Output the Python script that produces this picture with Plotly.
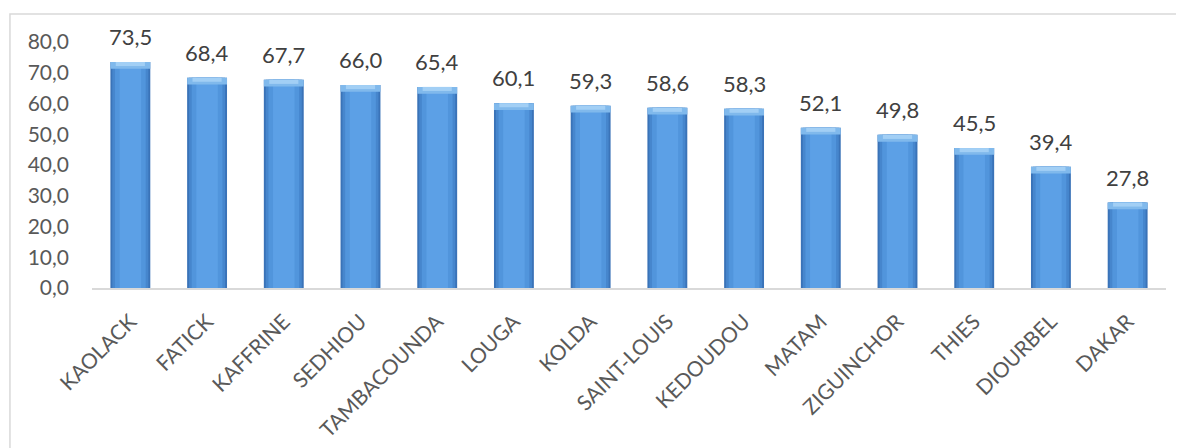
import plotly.graph_objects as go

regions = ["KAOLACK", "FATICK", "KAFFRINE", "SEDHIOU", "TAMBACOUNDA", "LOUGA", "KOLDA",
           "SAINT-LOUIS", "KEDOUDOU", "MATAM", "ZIGUINCHOR", "THIES", "DIOURBEL", "DAKAR"]
values = [73.5, 68.4, 67.7, 66.0, 65.4, 60.1, 59.3, 58.6, 58.3, 52.1, 49.8, 45.5, 39.4, 27.8]
y_ticks = [0, 10, 20, 30, 40, 50, 60, 70, 80]

FONT = "Lato"
cap = 2.2
fig = go.Figure()
# layered bars to imitate the cylinder-like gradient
for w, col in [(0.52, "#3a73b8"), (0.47, "#4686cd"), (0.40, "#5195dc"), (0.28, "#5ca0e6")]:
    fig.add_trace(go.Bar(x=regions, y=values, width=w, marker=dict(color=col, line=dict(width=0)),
                         hoverinfo="skip", showlegend=False))
# light top bevel
fig.add_trace(go.Bar(x=regions, y=[cap] * len(values), base=[v - cap for v in values], width=0.52,
                     marker=dict(color="#80b9ec", line=dict(width=0)), hoverinfo="skip", showlegend=False))
fig.add_trace(go.Bar(x=regions, y=[cap * 0.6] * len(values), base=[v - cap * 0.6 for v in values], width=0.38,
                     marker=dict(color="#a2cff5", line=dict(width=0)), hoverinfo="skip", showlegend=False))

for r, v in zip(regions, values):
    fig.add_annotation(x=r, y=v, text=f"{v:.1f}".replace(".", ","), showarrow=False,
                       yanchor="bottom", yshift=10, font=dict(family=FONT, size=22, color="#404040"))

fig.add_shape(type="rect", xref="paper", yref="paper", x0=-0.0764, x1=1.05, y0=-0.75, y1=1.1138,
              line=dict(color="#d9d9d9", width=1.5), fillcolor="rgba(0,0,0,0)", layer="below")

fig.update_layout(
    width=1184, height=448,
    margin=dict(l=84, r=26, t=34, b=168, autoexpand=False),
    paper_bgcolor="white", plot_bgcolor="white",
    barmode="overlay",
    separators=",.",
    font=dict(family=FONT, size=20, color="#595959"),
)
fig.update_xaxes(showline=True, linecolor="#d9d9d9", linewidth=2, tickangle=-45, ticks="",
                 showgrid=False, ticklabelstandoff=11, automargin=False,
                 tickfont=dict(family=FONT, size=21, color="#595959"), fixedrange=True)
fig.update_yaxes(range=[0, 80], tickvals=y_ticks, tickformat=".1f", showgrid=False, zeroline=False,
                 showline=False, ticks="", ticklabelstandoff=22, automargin=False,
                 tickfont=dict(family=FONT, size=21, color="#595959"), fixedrange=True)

fig.write_html("out.html", config={"displayModeBar": False})
